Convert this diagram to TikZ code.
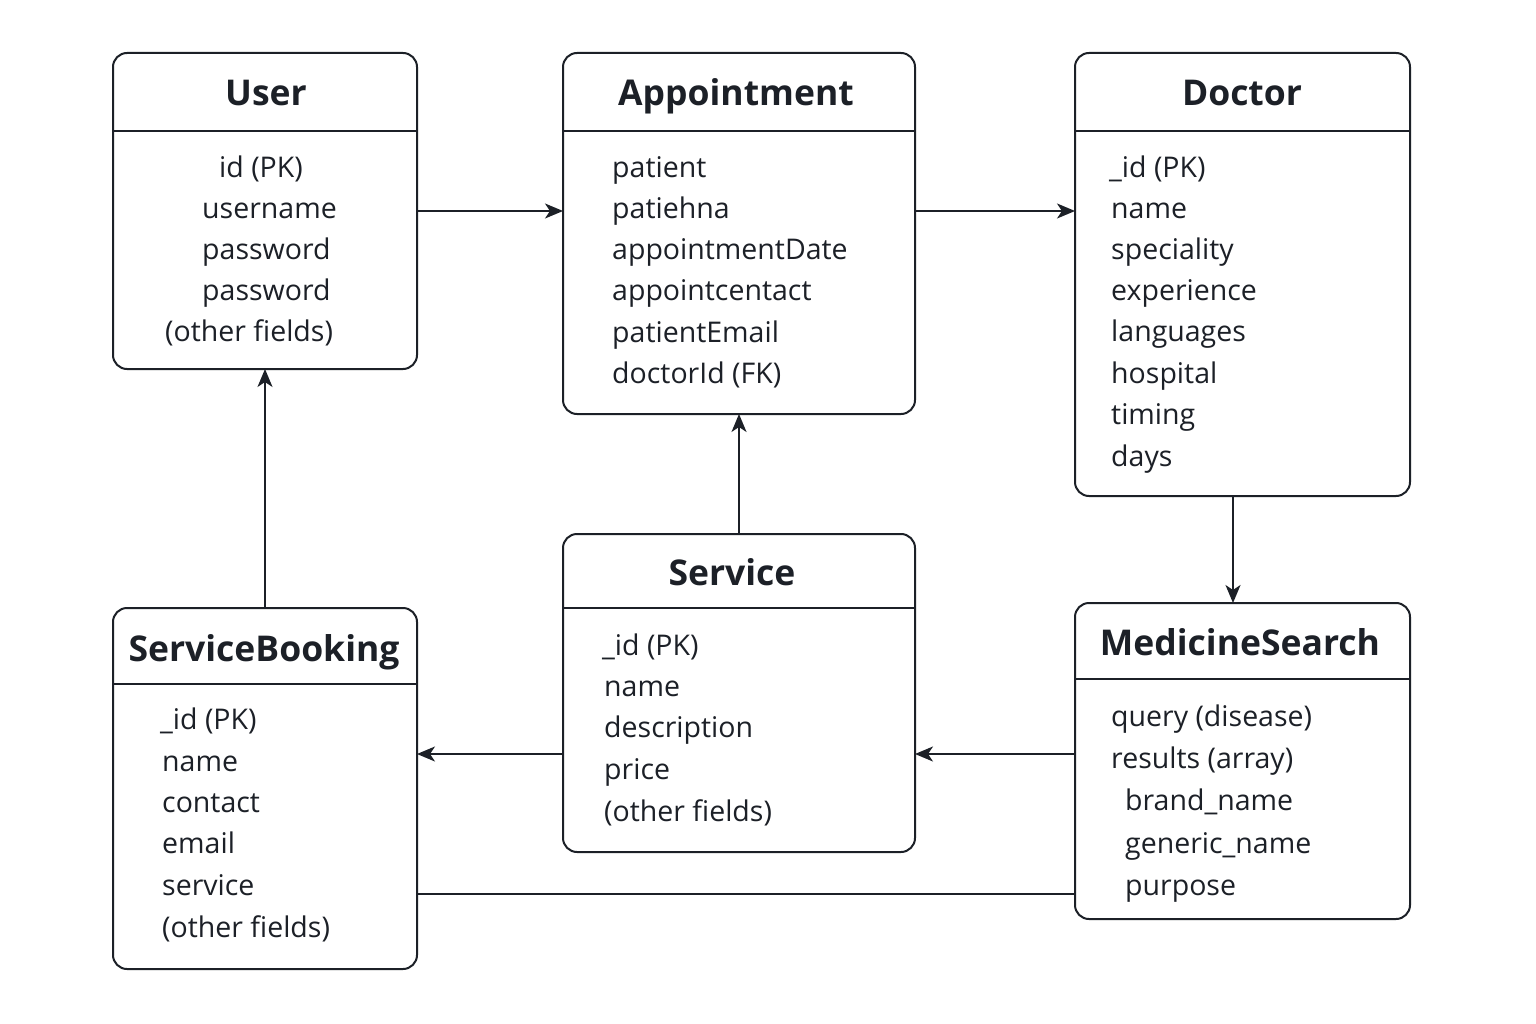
\documentclass[tikz,border=0pt]{standalone}
\usepackage{fontspec}
\setmainfont{Open Sans}
\usetikzlibrary{arrows.meta}
\definecolor{ink}{HTML}{1C2027}
\begin{document}
\begin{tikzpicture}[x=1pt,y=-1pt,
  box/.style={draw=ink, line width=2pt, rounded corners=14pt, inner sep=0pt, outer sep=0pt, anchor=north west},
  hdr/.style={draw=ink, line width=2pt},
  ttl/.style={font=\bfseries\fontsize{35.5}{42}\selectfont, anchor=base, text=ink, inner sep=0pt},
  fld/.style={font=\fontsize{28.5}{34}\selectfont, anchor=mid west, text=ink, inner sep=0pt, yshift=-7pt},
  arr/.style={draw=ink, line width=2pt, -{Stealth[length=18pt,width=15pt,inset=5pt]}},
  conn/.style={draw=ink, line width=2pt}]
\useasboundingbox[fill=white] (0,0) rectangle (1536,1024);

% boxes
\node[box, minimum width=304pt, minimum height=316pt] (user) at (113,53) {};
\node[box, minimum width=352pt, minimum height=361pt] (appt) at (563,53) {};
\node[box, minimum width=335pt, minimum height=443pt] (doctor) at (1075,53) {};
\node[box, minimum width=352pt, minimum height=318pt] (service) at (563,534) {};
\node[box, minimum width=304pt, minimum height=361pt] (sb) at (113,608) {};
\node[box, minimum width=335pt, minimum height=316pt] (med) at (1075,603) {};

% header separators
\draw[hdr] (user.west |- 0,131) -- (user.east |- 0,131);
\draw[hdr] (appt.west |- 0,131) -- (appt.east |- 0,131);
\draw[hdr] (doctor.west |- 0,131) -- (doctor.east |- 0,131);
\draw[hdr] (service.west |- 0,608) -- (service.east |- 0,608);
\draw[hdr] (sb.west |- 0,684) -- (sb.east |- 0,684);
\draw[hdr] (med.west |- 0,679) -- (med.east |- 0,679);

% titles
\node[ttl] (tuser) at (266,106) {User};
\node[ttl] (tappt) at (736,106) {Appointment};
\node[ttl] (tdoc) at (1242,106) {Doctor};
\node[ttl] (tserv) at (732,585) {Service};
\node[ttl] (tsb) at (264,661) {ServiceBooking};
\node[ttl] (tmed) at (1240,655) {MedicineSearch};

% User fields
\node[fld] (u1) at (219,168) {id (PK)};
\node[fld] (u2) at (202,209) {username};
\node[fld] (u3) at (202,250) {password};
\node[fld] (u4) at (202,291) {password};
\node[fld] (u5) at (165,332) {(other fields)};

% Appointment fields
\node[fld] (a1) at (612,168) {patient};
\node[fld] (a2) at (612,209) {patiehna};
\node[fld] (a3) at (612,250) {appointmentDate};
\node[fld] (a4) at (612,291) {appointcentact};
\node[fld] (a5) at (612,333) {patientEmail};
\node[fld] (a6) at (612,374) {doctorId (FK)};

% Doctor fields
\node[fld] (d1) at (1109,168) {\_id (PK)};
\node[fld] (d2) at (1111,209) {name};
\node[fld] (d3) at (1111,250) {speciality};
\node[fld] (d4) at (1111,291) {experience};
\node[fld] (d5) at (1111,332) {languages};
\node[fld] (d6) at (1111,374) {hospital};
\node[fld] (d7) at (1111,415) {timing};
\node[fld] (d8) at (1111,457) {days};

% Service fields
\node[fld] (s1) at (602,646) {\_id (PK)};
\node[fld] (s2) at (604,687) {name};
\node[fld] (s3) at (604,728) {description};
\node[fld] (s4) at (604,770) {price};
\node[fld] (s5) at (604,812) {(other fields)};

% ServiceBooking fields
\node[fld] (b1) at (160,720) {\_id (PK)};
\node[fld] (b2) at (162,762) {name};
\node[fld] (b3) at (162,803) {contact};
\node[fld] (b4) at (162,844) {email};
\node[fld] (b5) at (162,886) {service};
\node[fld] (b6) at (162,928) {(other fields)};

% MedicineSearch fields
\node[fld] (m1) at (1111,717) {query (disease)};
\node[fld] (m2) at (1111,759) {results (array)};
\node[fld] (m3) at (1125,801) {brand\_name};
\node[fld] (m4) at (1125,844) {generic\_name};
\node[fld] (m5) at (1125,886) {purpose};

% connectors
\coordinate (dx) at (1233,0);
\coordinate (r1) at (0,754);
\coordinate (r2) at (0,894);
\draw[arr] (user.east) -- (user.east -| appt.west);
\draw[arr] (appt.east |- user.east) -- (doctor.west |- user.east);
\draw[arr] (service.north) -- (appt.south);
\draw[arr] (sb.north) -- (user.south);
\draw[arr] (dx |- doctor.south) -- (dx |- med.north);
\draw[arr] (service.west |- r1) -- (sb.east |- r1);
\draw[arr] (med.west |- r1) -- (service.east |- r1);
\draw[conn] (sb.east |- r2) -- (med.west |- r2);
\end{tikzpicture}
\end{document}
